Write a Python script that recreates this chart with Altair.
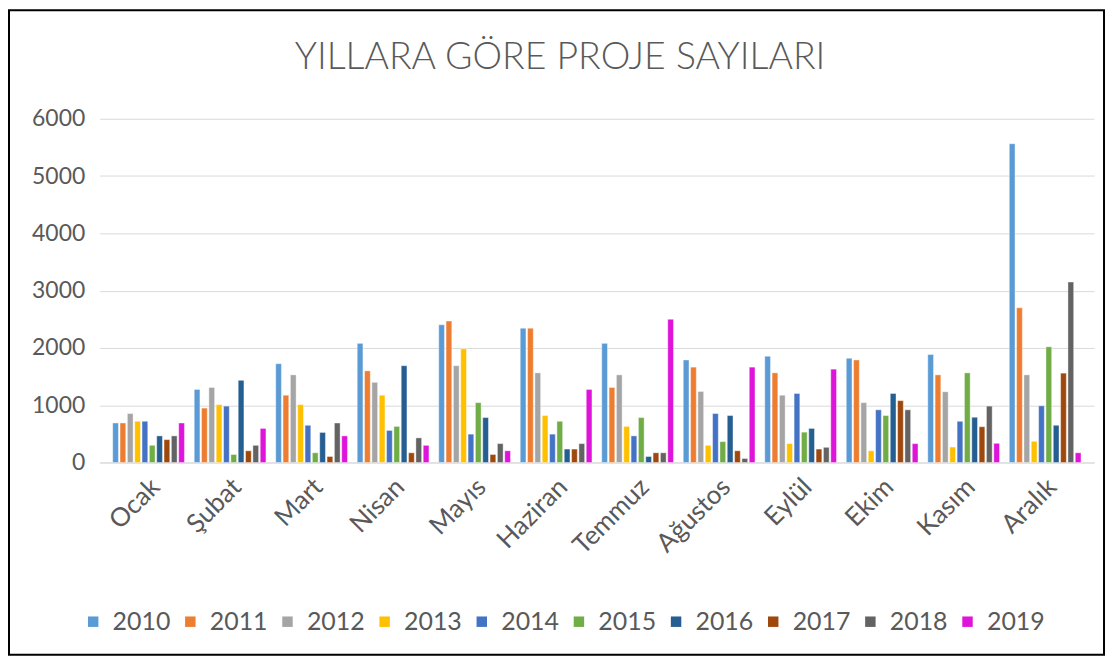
import altair as alt
import pandas as pd

months = ["Ocak", "Şubat", "Mart", "Nisan", "Mayıs", "Haziran", "Temmuz",
          "Ağustos", "Eylül", "Ekim", "Kasım", "Aralık"]
years = ["2010", "2011", "2012", "2013", "2014", "2015", "2016", "2017", "2018", "2019"]

v2010 = [690, 1275, 1725, 2080, 2405, 2345, 2080, 1790, 1855, 1820, 1885, 5565]
v2011 = [690, 950, 1175, 1600, 2470, 2345, 1310, 1665, 1565, 1790, 1530, 2700]
v2012 = [855, 1310, 1530, 1400, 1690, 1565, 1530, 1240, 1175, 1045, 1235, 1530]
v2013 = [720, 1010, 1010, 1175, 1985, 820, 630, 300, 330, 205, 270, 370]
v2014 = [720, 985, 650, 560, 495, 495, 465, 855, 1205, 920, 720, 990]
v2015 = [300, 140, 170, 630, 1045, 720, 785, 365, 530, 820, 1565, 2020]
v2016 = [465, 1435, 525, 1690, 785, 235, 105, 820, 595, 1205, 790, 650]
v2017 = [400, 205, 105, 170, 140, 235, 170, 205, 235, 1080, 625, 1560]
v2018 = [465, 300, 690, 430, 330, 330, 170, 70, 265, 920, 985, 3150]
v2019 = [690, 595, 465, 300, 205, 1275, 2500, 1665, 1630, 330, 335, 170]

series = [v2010, v2011, v2012, v2013, v2014, v2015, v2016, v2017, v2018, v2019]
colors = ["#5B9BD5", "#ED7D31", "#A5A5A5", "#FFC000", "#4472C4",
          "#70AD47", "#255E91", "#9E480E", "#636363", "#DF14DB"]
title_text = "YILLARA GÖRE PROJE SAYILARI"

rows = []
for y, vals in zip(years, series):
    for m, v in zip(months, vals):
        rows.append({"Ay": m, "Yıl": y, "Değer": v})
df = pd.DataFrame(rows)

FONT = "Lato"
GRAY = "#595959"

bars = alt.Chart(df).mark_bar(stroke="white", strokeWidth=0.4).encode(
    x=alt.X("Ay:N", sort=months,
            scale=alt.Scale(paddingInner=0.12, paddingOuter=0.16),
            axis=alt.Axis(title=None, labelAngle=-45, labelAlign="right",
                          labelBaseline="top", labelFontSize=26, labelColor=GRAY,
                          labelFont=FONT, ticks=False, domainColor="#D9D9D9",
                          labelPadding=11, labelOffset=-2)),
    xOffset=alt.XOffset("Yıl:N", sort=years, scale=alt.Scale(paddingInner=0.22)),
    y=alt.Y("Değer:Q", scale=alt.Scale(domain=[0, 6000]),
            axis=alt.Axis(title=None, values=[0, 1000, 2000, 3000, 4000, 5000, 6000],
                          format="d",
                          labelFontSize=23, labelColor=GRAY, labelFont=FONT,
                          ticks=False, domain=False, gridColor="#D9D9D9",
                          labelPadding=15)),
    color=alt.Color("Yıl:N", sort=years,
                    scale=alt.Scale(domain=years, range=colors),
                    legend=alt.Legend(title=None, orient="none", legendX=-19, legendY=492,
                                      direction="horizontal", columns=10,
                                      symbolType="square", symbolSize=110,
                                      symbolStrokeWidth=0,
                                      labelFontSize=25, labelColor=GRAY, labelFont=FONT,
                                      columnPadding=6.5, labelOffset=7)),
)

one = pd.DataFrame({"k": [0]})
frame = alt.Chart(one).mark_rect(fill="white", fillOpacity=0, stroke="black",
                                 strokeWidth=2).encode(
    x=alt.value(-91), x2=alt.value(1008), y=alt.value(-109), y2=alt.value(538)
)

title = alt.Chart(one).mark_text(text=title_text, font=FONT, fontSize=37.5,
                                 fontWeight=300, color=GRAY, align="center",
                                 baseline="alphabetic").encode(
    x=alt.value(462), y=alt.value(-50)
)

chart = alt.layer(bars, frame, title).properties(
    width=998, height=345,
    autosize=alt.AutoSizeParams(type="none"),
    padding={"left": 92, "top": 110, "right": 14, "bottom": 194},
).configure_view(stroke=None)

chart.save("out.html", embed_options={"renderer": "svg", "actions": False})
